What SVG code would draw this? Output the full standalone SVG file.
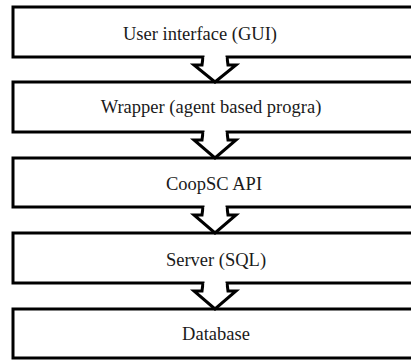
<svg xmlns="http://www.w3.org/2000/svg" width="411" height="360" viewBox="0 0 411 360">
<style>
.box{fill:#fff;stroke:#000;stroke-width:3}
.arr{fill:#fff;stroke:#000;stroke-width:3;stroke-linejoin:miter}
.gap{fill:#fff}
.t{font-family:'Liberation Serif','Times New Roman',Times,serif;font-size:18.5px;fill:#1a1a1a;text-anchor:middle}
</style>
<rect width="411" height="360" fill="#fff"/>
<g id="n1"><rect class="box" x="13" y="7" width="410" height="50"/><text class="t" x="200" y="40">User interface (GUI)</text></g>
<g id="n2"><rect class="box" x="13" y="82" width="410" height="50"/><text class="t" x="211" y="113">Wrapper (agent based progra)</text></g>
<g id="n3"><rect class="box" x="13" y="158" width="410" height="49"/><text class="t" x="214" y="190">CoopSC API</text></g>
<g id="n4"><rect class="box" x="13" y="233" width="410" height="50"/><text class="t" x="216" y="266">Server (SQL)</text></g>
<g id="n5"><rect class="box" x="13" y="309" width="410" height="49"/><text class="t" x="216" y="340">Database</text></g>
<g id="connectors">
<path class="arr" d="M203,57 L202,65 L194,65 L215,82 L236,65 L228,65 L227,57"/>
<rect class="gap" x="204.5" y="54" width="21" height="6"/>
<path class="arr" d="M203,132 L202,140 L194,140 L215,158 L236,140 L228,140 L227,132"/>
<rect class="gap" x="204.5" y="129" width="21" height="6"/>
<path class="arr" d="M203,207 L202,215 L194,215 L215,233 L236,215 L228,215 L227,207"/>
<rect class="gap" x="204.5" y="204" width="21" height="6"/>
<path class="arr" d="M203,283 L202,291 L194,291 L215,309 L236,291 L228,291 L227,283"/>
<rect class="gap" x="204.5" y="280" width="21" height="6"/>
</g>
</svg>
